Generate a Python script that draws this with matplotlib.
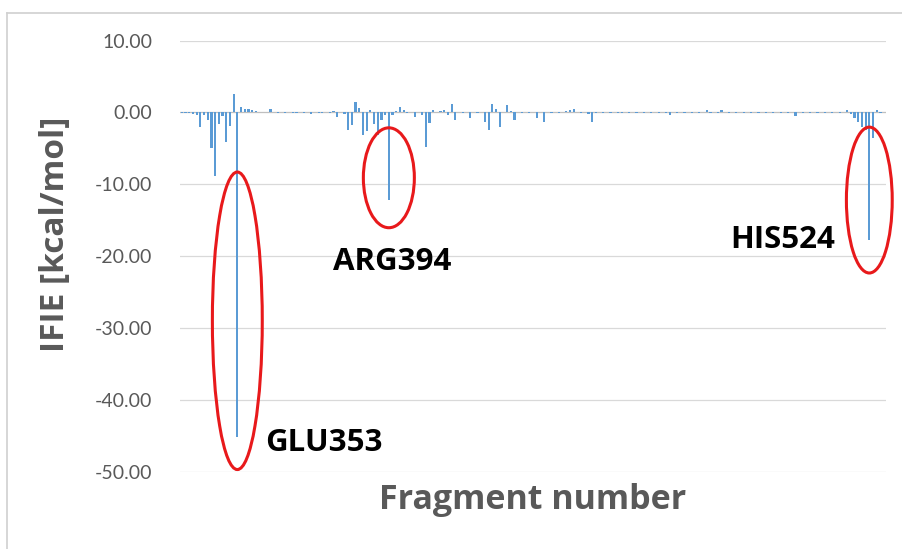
import matplotlib.pyplot as plt
from matplotlib.patches import Ellipse
from matplotlib.lines import Line2D

# Fragment (residue) numbers and IFIE values in kcal/mol
fragments = list(range(338, 529))
ifie = [
    -0.1, -0.1, -0.1, -0.2, -0.3, -2.1, -0.3, -1.1, -5.0, -8.8,   # 338-347
    -1.6, -0.5, -4.1, -1.9, 2.6, -45.2, 0.8, 0.5, 0.5, 0.4,       # 348-357
    0.2, 0.1, 0.1, 0.1, 0.5, 0.1, -0.1, 0.1, -0.1, 0.1,           # 358-367
    -0.1, -0.1, 0.1, -0.1, 0.1, -0.2, 0.1, -0.1, -0.1, 0.1,       # 368-377
    -0.1, 0.2, -0.7, 0.1, -0.2, -2.4, -1.7, 1.4, 0.6, -3.1,       # 378-387
    -2.6, 0.3, -1.6, -3.1, -1.0, -0.4, -12.2, -0.3, 0.2, 0.8,     # 388-397
    0.3, -0.1, 0.1, -0.7, 0.1, -0.3, -4.8, -1.5, 0.4, 0.1,        # 398-407
    0.2, 0.3, -0.3, 1.1, -1.0, 0.1, -0.1, 0.1, -0.8, 0.1,         # 408-417
    -0.1, 0.1, -1.3, -2.4, 1.1, 0.5, -2.0, 0.1, 1.0, 0.2,         # 418-427
    -1.1, 0.1, -0.1, 0.1, -0.1, 0.1, -0.8, 0.1, -1.3, 0.1,        # 428-437
    -0.1, 0.1, -0.1, 0.1, 0.2, 0.4, 0.5, 0.1, -0.1, 0.1,          # 438-447
    -0.2, -1.3, -0.1, 0.1, -0.1, 0.1, -0.1, 0.1, -0.1, -0.1,      # 448-457
    0.1, -0.1, 0.1, -0.1, 0.1, -0.1, 0.1, -0.1, 0.1, -0.1,        # 458-467
    0.1, -0.1, -0.3, 0.1, -0.1, 0.1, -0.1, 0.1, -0.1, 0.1,        # 468-477
    -0.1, 0.1, 0.3, -0.1, 0.1, -0.1, 0.3, 0.1, -0.1, 0.1,         # 478-487
    -0.1, 0.1, -0.1, 0.1, -0.1, 0.1, -0.1, 0.1, -0.1, 0.1,        # 488-497
    -0.1, 0.1, -0.1, 0.1, -0.1, 0.1, -0.5, 0.1, -0.1, 0.1,        # 498-507
    -0.1, 0.1, -0.1, 0.1, -0.1, 0.1, -0.1, 0.1, -0.1, 0.1,        # 508-517
    0.4, -0.2, -0.8, -1.3, -2.0, -2.5, -17.7, -3.6, 0.3, -0.1,    # 518-527
    0.1,                                                          # 528
]

# Highlighted residues: (label, residue, text x, text y, ellipse centre y, width, height)
highlights = [
    ('GLU353', 353, 360.6, -46.0, -29.0, 13.5, 41.4),
    ('ARG394', 394, 379.0, -20.8, -9.1, 13.8, 13.9),
    ('HIS524', 524, 486.5, -17.7, -12.2, 12.4, 20.3),
]

fig = plt.figure(figsize=(9.02, 5.49), dpi=100)
ax = fig.add_axes([0.1996, 0.1408, 0.7826, 0.7854])

ax.bar(fragments, ifie, width=0.6, color='#5B9BD5', zorder=3)

ax.set_ylim(-50, 10)
ax.set_xlim(337.5, 528.5)
ax.set_yticks(range(-50, 11, 10))
ax.set_yticklabels([f'{v:.2f}' for v in range(-50, 11, 10)])
ax.set_xticks([])
ax.grid(axis='y', color='#D9D9D9', linewidth=0.9, zorder=0)
ax.axhline(0, color='#BFBFBF', linewidth=0.8, zorder=2)
for s in ax.spines.values():
    s.set_visible(False)
ax.tick_params(axis='y', length=0, pad=20, labelsize=14, labelcolor='#595959')
for t in ax.get_yticklabels():
    t.set_family('Lato')

ax.set_ylabel('IFIE [kcal/mol]', fontsize=24, fontweight='bold',
              color='#595959', family='Open Sans')
ax.yaxis.set_label_coords(-0.153, 0.551)
ax.set_xlabel('Fragment number', fontsize=24.5, fontweight='bold',
              color='#595959', family='Open Sans')
ax.xaxis.set_label_coords(0.5, -0.066)
ax.xaxis.label.set_va('center')

# red ellipses around the strongest interactions
for name, res, tx, ty, ey, ew, eh in highlights:
    ax.add_patch(Ellipse((res, ey), ew, eh, fill=False, edgecolor='#E8191B',
                         linewidth=2.2, zorder=4, clip_on=False))
    ax.text(tx, ty, name, fontsize=22.5, fontweight='bold', color='black',
            family='Open Sans', ha='left', va='center')

# light frame of the chart area
fig.add_artist(Line2D([7 / 902, 7 / 902], [0, 1 - 13 / 549],
                      transform=fig.transFigure, color='#D0D0D0', linewidth=1.2))
fig.add_artist(Line2D([7 / 902, 1], [1 - 13 / 549, 1 - 13 / 549],
                      transform=fig.transFigure, color='#D0D0D0', linewidth=1.2))

fig.savefig('out.png', dpi=100)
